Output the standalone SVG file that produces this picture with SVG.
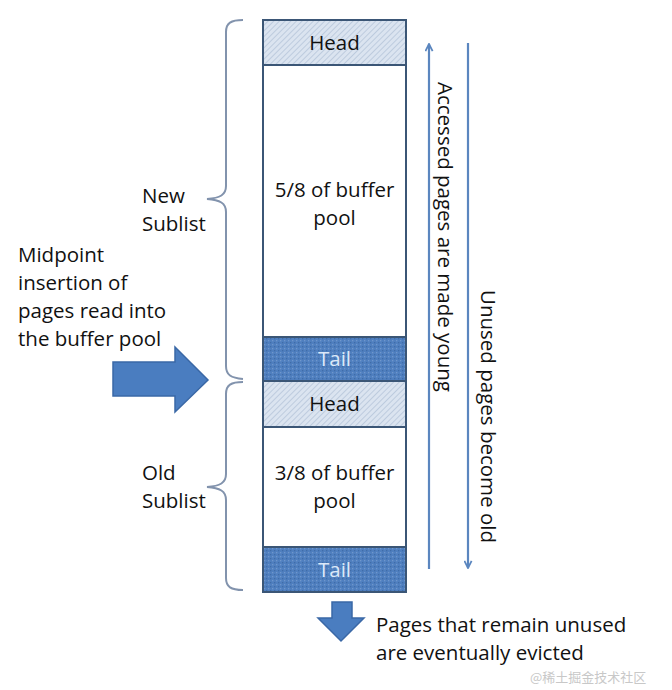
<svg xmlns="http://www.w3.org/2000/svg" width="672" height="690" viewBox="0 0 672 690">
<defs>
<style>
.t{font-family:"Open Sans","Liberation Sans",sans-serif;font-size:20.5px;fill:#111}
.c{text-anchor:middle}
.tl{fill:#dbe8f8}
.box{stroke:#3b5676;stroke-width:2}
.brace{fill:none;stroke:#8293ad;stroke-width:2}
.vline{stroke:#5b86bf;stroke-width:2.2;fill:none}
.big{fill:#4a7dc0;stroke:#3a68a6;stroke-width:1.5}
</style>
<pattern id="hatch" width="4" height="4" patternUnits="userSpaceOnUse" patternTransform="rotate(45)">
<rect width="4" height="4" fill="#dbe4f0"/>
<line x1="0" y1="0" x2="0" y2="4" stroke="#b3c3d9" stroke-width="1.5"/>
</pattern>
<pattern id="dots" width="4" height="4" patternUnits="userSpaceOnUse">
<rect width="4" height="4" fill="#4f7fbf"/>
<rect x="0" y="0" width="1.3" height="1.3" fill="#6f97cc"/>
<rect x="2" y="2" width="1.3" height="1.3" fill="#3f6ca8"/>
</pattern>
<marker id="ah" viewBox="0 0 10 10" refX="9" refY="5" markerWidth="9" markerHeight="9" orient="auto" markerUnits="userSpaceOnUse">
<path d="M1,1 L9,5 L1,9" fill="none" stroke="#5b86bf" stroke-width="2"/>
</marker>
</defs>
<rect width="672" height="690" fill="#ffffff"/>

<g id="column">
<rect class="box" x="263" y="20" width="143" height="572" fill="#ffffff"/>
</g>
<g id="head-new">
<rect class="box" x="263" y="20" width="143" height="45" fill="url(#hatch)"/>
<text class="t c" x="334.5" y="50">Head</text>
</g>
<g id="new-body">
<text class="t c" x="334.5" y="197">5/8 of buffer</text>
<text class="t c" x="334.5" y="225">pool</text>
</g>
<g id="tail-new">
<rect class="box" x="263" y="337" width="143" height="44" fill="url(#dots)"/>
<text class="t c tl" x="334.5" y="366">Tail</text>
</g>
<g id="head-old">
<rect class="box" x="263" y="381" width="143" height="46" fill="url(#hatch)"/>
<text class="t c" x="334.5" y="411">Head</text>
</g>
<g id="old-body">
<text class="t c" x="334.5" y="480">3/8 of buffer</text>
<text class="t c" x="334.5" y="508">pool</text>
</g>
<g id="tail-old">
<rect class="box" x="263" y="547" width="143" height="45" fill="url(#dots)"/>
<text class="t c tl" x="334.5" y="577">Tail</text>
</g>

<g id="new-sublist">
<path class="brace" d="M243,20 C231,20 226,23 226,32 L226,186 C226,195 220,198 207,199 C220,200 226,203 226,212 L226,366 C226,375 231,378 243,379"/>
<text class="t" x="142" y="203">New</text>
<text class="t" x="142" y="231">Sublist</text>
</g>
<g id="old-sublist">
<path class="brace" d="M243,382 C231,382 226,385 226,394 L226,474 C226,483 220,486 207,487 C220,488 226,491 226,500 L226,578 C226,587 231,590 243,590"/>
<text class="t" x="142" y="480">Old</text>
<text class="t" x="142" y="508">Sublist</text>
</g>

<g id="midpoint">
<text class="t" x="18" y="262">Midpoint</text>
<text class="t" x="18" y="290">insertion of</text>
<text class="t" x="18" y="318">pages read into</text>
<text class="t" x="18" y="346">the buffer pool</text>
<path class="big" d="M113,362 L175,362 L175,347 L208,380 L175,412 L175,396 L113,396 Z"/>
</g>

<g id="connectors">
<line class="vline" x1="429" y1="569" x2="429" y2="44" marker-end="url(#ah)"/>
<line class="vline" x1="468" y1="43" x2="468" y2="568" marker-end="url(#ah)"/>
</g>
<g id="young-label">
<text class="t" transform="translate(438,82) rotate(90)">Accessed pages are made young</text>
</g>
<g id="old-label">
<text class="t" transform="translate(481,290) rotate(90)">Unused pages become old</text>
</g>

<g id="evict">
<path class="big" d="M332,602 L352,602 L352,618 L364,618 L341,641 L318,618 L332,618 Z"/>
<text class="t" x="376" y="632">Pages that remain unused</text>
<text class="t" x="376" y="660">are eventually evicted</text>
</g>
<text x="530" y="682" style="font-family:'Noto Sans CJK SC',sans-serif;font-size:13px;fill:#c8c8c8">@稀土掘金技术社区</text>
</svg>
